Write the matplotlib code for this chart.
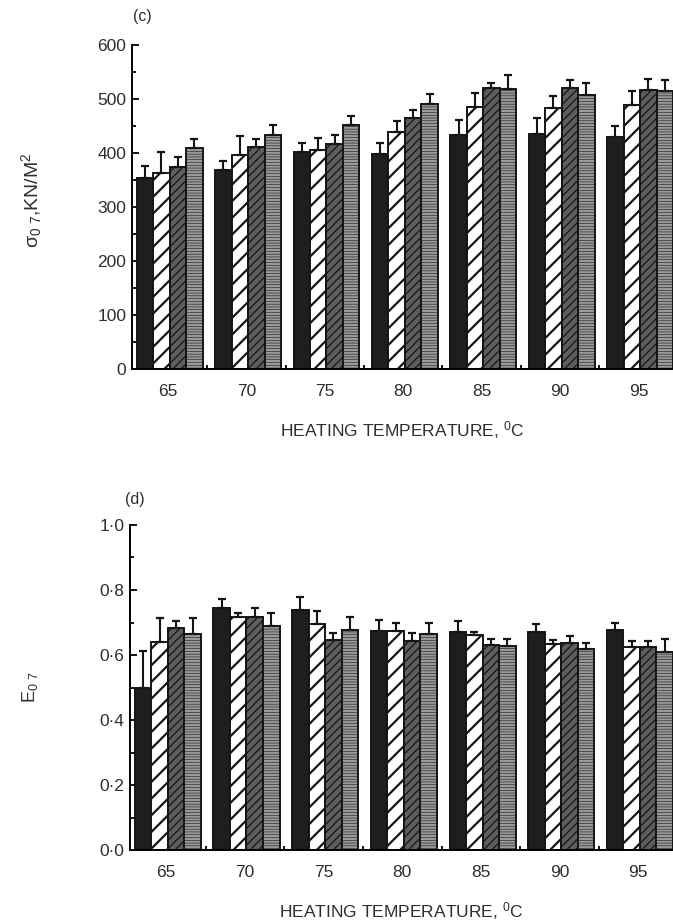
import matplotlib
matplotlib.use("Agg")
import matplotlib.pyplot as plt
import numpy as np
from matplotlib.ticker import FixedLocator, FuncFormatter

plt.rcParams['font.family'] = ['Liberation Sans', 'DejaVu Sans']
plt.rcParams['mathtext.default'] = 'regular'

# Heating temperatures (deg C)
temps = ["65", "70", "75", "80", "85", "90", "95"]

# (c) yield stress sigma_0.7, kN/m^2 : four treatments per temperature
sig_black = [354, 368, 401, 399, 434, 436, 429]
sig_black_err = [22, 18, 18, 20, 28, 29, 21]
sig_white = [363, 397, 405, 438, 486, 483, 488]
sig_white_err = [39, 35, 23, 22, 25, 23, 26]
sig_dense = [374, 412, 416, 465, 521, 521, 517]
sig_dense_err = [19, 13, 18, 15, 9, 15, 20]
sig_gray = [409, 434, 451, 490, 519, 508, 515]
sig_gray_err = [17, 17, 18, 20, 26, 22, 21]

# (d) E_0.7
e_black = [0.499, 0.744, 0.740, 0.675, 0.672, 0.670, 0.677]
e_black_err = [0.113, 0.027, 0.039, 0.033, 0.033, 0.024, 0.022]
e_white = [0.641, 0.718, 0.695, 0.675, 0.662, 0.634, 0.624]
e_white_err = [0.074, 0.010, 0.040, 0.022, 0.010, 0.012, 0.020]
e_dense = [0.682, 0.718, 0.646, 0.644, 0.631, 0.638, 0.626]
e_dense_err = [0.023, 0.026, 0.023, 0.023, 0.017, 0.020, 0.018]
e_gray = [0.664, 0.689, 0.677, 0.665, 0.629, 0.618, 0.608]
e_gray_err = [0.051, 0.039, 0.039, 0.032, 0.019, 0.020, 0.040]

W, H = 673, 922
fig = plt.figure(figsize=(W / 100, H / 100), dpi=100)

styles = [
    dict(facecolor="#1e1e1e", hatch=None, hlw=1.0),
    dict(facecolor="white", hatch="//", hlw=1.6),
    dict(facecolor="#5e5e5e", hatch="////", hlw=0.9),
    dict(facecolor="#9a9a9a", hatch="------", hlw=0.4),
]
bw = 0.21
txt = "#2e2e2e"


def draw_panel(ax, series, errs, ymax, yticks, fmt, minor):
    x = np.arange(len(temps))
    for k, (vals, err) in enumerate(zip(series, errs)):
        st = styles[k]
        pos = x + (k - 1.5) * bw + 0.02
        plt.rcParams['hatch.linewidth'] = st["hlw"]
        bars = ax.bar(pos, vals, bw, color=st["facecolor"], edgecolor="#151515",
                      linewidth=1.4, hatch=st["hatch"], zorder=2)
        for b in bars:
            if hasattr(b, "set_hatch_linewidth"):
                b.set_hatch_linewidth(st["hlw"])
        ax.errorbar(pos, vals, yerr=[np.zeros(len(vals)), err], fmt="none",
                    ecolor="#151515", elinewidth=1.5, capsize=3.2, capthick=1.6,
                    zorder=3)
    ax.set_xlim(-0.46, 6.44)
    ax.set_ylim(0, ymax)
    for s in ["top", "right"]:
        ax.spines[s].set_visible(False)
    ax.spines["left"].set_linewidth(1.4)
    ax.spines["bottom"].set_linewidth(1.4)
    ax.set_xticks(x)
    ax.set_xticklabels(temps)
    ax.xaxis.set_minor_locator(FixedLocator(x[:-1] + 0.5))
    ax.tick_params(axis="x", which="major", length=0, pad=11, labelsize=12.5,
                   labelcolor=txt)
    ax.tick_params(axis="x", which="minor", direction="in", length=3, width=1.3)
    ax.set_yticks(yticks)
    ax.yaxis.set_major_formatter(FuncFormatter(fmt))
    ax.yaxis.set_minor_locator(FixedLocator(minor))
    ax.tick_params(axis="y", which="major", direction="in", length=5, width=1.3,
                   labelsize=12.5, labelcolor=txt, pad=4)
    ax.tick_params(axis="y", which="minor", direction="in", length=3, width=1.3)


ax1 = fig.add_axes([132 / W, 1 - 369 / H, (W - 132) / W, (369 - 45) / H])
draw_panel(ax1, [sig_black, sig_white, sig_dense, sig_gray],
           [sig_black_err, sig_white_err, sig_dense_err, sig_gray_err],
           600, np.arange(0, 601, 100), lambda v, p: f"{v:.0f}",
           np.arange(50, 600, 100))
ax1.set_xlabel(r"HEATING TEMPERATURE, $^{0}$C", fontsize=12.5, color=txt,
               labelpad=14)
ax1.set_ylabel(r"$\sigma_{0\ 7}$,KN/M$^{2}$", fontsize=14, color=txt)
ax1.yaxis.set_label_coords(-(132 - 44) / (W - 132), 0.52)
fig.text(142 / W, 1 - 16 / H, "(c)", ha="center", va="center", fontsize=11.5,
         color=txt)

ax2 = fig.add_axes([130 / W, 1 - 850 / H, (W - 130) / W, (850 - 525) / H])
draw_panel(ax2, [e_black, e_white, e_dense, e_gray],
           [e_black_err, e_white_err, e_dense_err, e_gray_err],
           1.0, np.arange(0, 1.01, 0.2), lambda v, p: f"{v:.1f}".replace(".", "·"),
           np.arange(0.1, 1.0, 0.2))
ax2.set_xlabel(r"HEATING TEMPERATURE, $^{0}$C", fontsize=12.5, color=txt,
               labelpad=14)
ax2.set_ylabel(r"E$_{0\ 7}$", fontsize=13, color=txt)
ax2.yaxis.set_label_coords(-(130 - 40) / (W - 130), 0.5)
fig.text(135 / W, 1 - 499 / H, "(d)", ha="center", va="center", fontsize=11.5,
         color=txt)

fig.savefig("out.png", dpi=100)
